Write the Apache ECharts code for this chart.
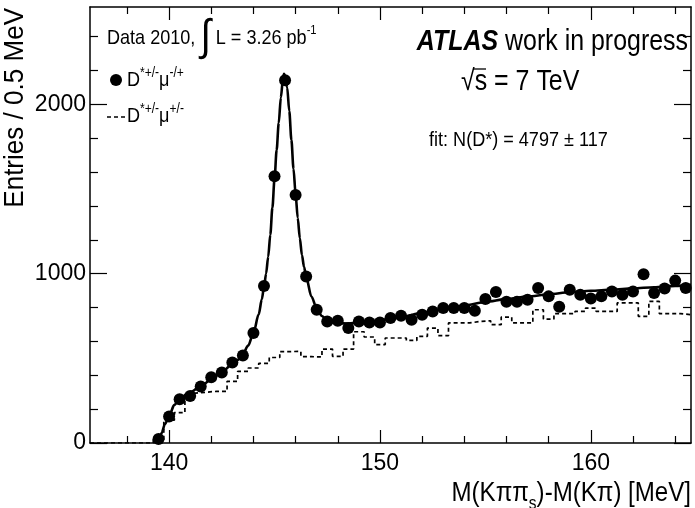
<!DOCTYPE html>
<html lang="en">
<head>
<meta charset="UTF-8">
<title>D* mu</title>
<script src="https://cdn.jsdelivr.net/npm/echarts@6/dist/echarts.min.js"></script>
<style>
  html, body { margin: 0; padding: 0; background: #fff; }
  #chart { width: 695px; height: 508px; }
</style>
</head>
<body>
<div id="chart"></div>
<script>
// wrong-sign histogram, 0.5 MeV bins (bin centres)
var wsBins = [136.5, 137.0, 137.5, 138.0, 138.5, 139.0, 139.5, 140.0, 140.5, 141.0,
    141.5, 142.0, 142.5, 143.0, 143.5, 144.0, 144.5, 145.0, 145.5, 146.0,
    146.5, 147.0, 147.5, 148.0, 148.5, 149.0, 149.5, 150.0, 150.5, 151.0,
    151.5, 152.0, 152.5, 153.0, 153.5, 154.0, 154.5, 155.0, 155.5, 156.0,
    156.5, 157.0, 157.5, 158.0, 158.5, 159.0, 159.5, 160.0, 160.5, 161.0,
    161.5, 162.0, 162.5, 163.0, 163.5, 164.0, 164.5];
var wsCounts = [0, 0, 0, 0, 0, 0, 20, 135, 179, 295,
    300, 305, 305, 364, 423, 443, 470, 505, 540, 541,
    510, 508, 555, 512, 555, 657, 626, 581, 620, 620,
    606, 630, 679, 634, 709, 709, 718, 722, 699, 744,
    709, 709, 787, 732, 764, 764, 777, 797, 777, 777,
    827, 827, 748, 836, 764, 764, 758];

// right-sign data points
var rsBins = [139.5, 140.0, 140.5, 141.0, 141.5, 142.0, 142.5, 143.0, 143.5, 144.0,
    144.5, 145.0, 145.5, 146.0, 146.5, 147.0, 147.5, 148.0, 148.5, 149.0,
    149.5, 150.0, 150.5, 151.0, 151.5, 152.0, 152.5, 153.0, 153.5, 154.0,
    154.5, 155.0, 155.5, 156.0, 156.5, 157.0, 157.5, 158.0, 158.5, 159.0,
    159.5, 160.0, 160.5, 161.0, 161.5, 162.0, 162.5, 163.0, 163.5, 164.0, 164.5];
var rsCounts = [24, 157, 258, 277, 334, 388, 417, 476, 517, 650,
    927, 1575, 2142, 1465, 983, 787, 717, 722, 679, 718,
    712, 712, 738, 752, 728, 758, 777, 797, 797, 797,
    781, 851, 892, 834, 834, 846, 915, 866, 805, 905,
    876, 854, 866, 895, 876, 895, 996, 886, 912, 959, 915];

// fit curve
var fitX = [139.5, 139.65, 139.8, 140.0, 140.25, 140.5, 141.0, 141.5, 142.0, 142.5,
    143.0, 143.25, 143.5, 143.75, 144.0, 144.25, 144.4, 144.5, 144.6, 144.7,
    144.8, 144.9, 145.0, 145.1, 145.2, 145.3, 145.4, 145.45, 145.5, 145.6,
    145.7, 145.8, 145.9, 146.0, 146.1, 146.2, 146.3, 146.4, 146.5, 146.75,
    147.0, 147.25, 147.5, 147.75, 148.0, 148.5, 149.0, 150.0, 151.0, 152.0,
    153.0, 154.0, 155.0, 156.0, 157.0, 158.0, 159.0, 160.0, 161.0, 162.0,
    163.0, 164.0, 164.75];
var fitY = [0, 60, 110, 160, 225, 265, 300, 335, 375, 420,
    465, 490, 525, 575, 650, 760, 850, 920, 1000, 1100,
    1230, 1390, 1560, 1730, 1890, 2040, 2150, 2180, 2170, 2100,
    1960, 1790, 1620, 1470, 1330, 1210, 1110, 1040, 980, 865,
    795, 750, 725, 712, 707, 706, 710, 725, 745, 768,
    790, 812, 833, 850, 865, 878, 890, 899, 906, 913,
    920, 928, 934];

var xMajor = [140, 150, 160];
var xMinor = [138, 142, 144, 146, 148, 152, 154, 156, 158, 162, 164];
var yMajor = [0, 1000, 2000];
var yMinor = [200, 400, 600, 800, 1200, 1400, 1600, 1800, 2200, 2400];

var binWidth = 0.5;
var xMin = 136.25, xMax = 164.75, yMin = 0, yMax = 2575;

var FONT = "'Liberation Sans', Arial, sans-serif";
var SQ = 0.86;  // squeeze texts a bit, the original font is narrow

// histogram outline from bin centres
var wsStep = [];
for (var i = 0; i < wsBins.length; i++) {
    wsStep.push([wsBins[i] - binWidth / 2, wsCounts[i]]);
    wsStep.push([wsBins[i] + binWidth / 2, wsCounts[i]]);
}
var rsData = rsBins.map(function (x, i) { return [x, rsCounts[i]]; });
var fitData = fitX.map(function (x, i) { return [x, fitY[i]]; });

function tickAxis(kind, pos, ticks, len, main, labels) {
    var a = {
        type: 'value', position: pos,
        min: kind === 'x' ? xMin : yMin,
        max: kind === 'x' ? xMax : yMax,
        splitLine: {show: false},
        axisLine: {show: main, onZero: false, lineStyle: {color: '#000', width: 1.5}},
        axisTick: {show: true, inside: true, length: len, customValues: ticks,
            lineStyle: {color: '#000', width: 1.2}},
        axisLabel: {show: false}
    };
    if (labels) {
        a.axisLabel = {show: true, customValues: labels, color: '#000',
            fontFamily: FONT, fontSize: 23, margin: kind === 'x' ? 9 : 4,
            formatter: function (v) { return String(v); }};
    }
    return a;
}

var myChart = echarts.init(document.getElementById('chart'));
var option = {
    backgroundColor: '#fff',
    animation: false,
    grid: {left: 90, right: 4, top: 7, bottom: 65},
    xAxis: [
        tickAxis('x', 'bottom', xMajor, 13, true, xMajor),
        tickAxis('x', 'bottom', xMinor, 7, false),
        tickAxis('x', 'top', xMajor, 13, true),
        tickAxis('x', 'top', xMinor, 7, false)
    ],
    yAxis: [
        tickAxis('y', 'left', yMajor, 17, true, yMajor),
        tickAxis('y', 'left', yMinor, 8, false),
        tickAxis('y', 'right', yMajor, 17, true),
        tickAxis('y', 'right', yMinor, 8, false)
    ],
    series: [
        {
            name: 'D*+/-mu+/-', type: 'line', data: wsStep, showSymbol: false, z: 2,
            lineStyle: {color: '#000', width: 1.7, type: [4, 3]}
        },
        {
            name: 'fit', type: 'line', data: fitData, showSymbol: false, z: 3,
            smooth: 0.3, smoothMonotone: 'x',
            lineStyle: {color: '#000', width: 2.6}
        },
        {
            name: 'D*+/-mu-/+', type: 'scatter', data: rsData, z: 4,
            symbol: 'circle', symbolSize: 12, itemStyle: {color: '#000', opacity: 1}
        }
    ],
    graphic: [
        // axis titles
        {type: 'text', x: 691, y: 493, scaleX: SQ, style: {
            text: '{t|M(K\u03c0\u03c0}{s|s}{t|)-M(K\u03c0) [MeV]}', align: 'right', verticalAlign: 'middle',
            rich: {
                t: {fontFamily: FONT, fontSize: 28, lineHeight: 28, fill: '#000'},
                s: {fontFamily: FONT, fontSize: 18, lineHeight: 40, verticalAlign: 'bottom', fill: '#000'}
            }}},
        {type: 'text', x: 15, y: 8, rotation: Math.PI / 2, scaleX: 0.93, style: {
            text: 'Entries / 0.5 MeV', align: 'right', verticalAlign: 'middle',
            fontFamily: FONT, fontSize: 28, fill: '#000'}},
        // luminosity label
        {type: 'text', x: 107, y: 38, scaleX: SQ, style: {
            text: '{t|Data 2010, }{i|\u222b}{t| L = 3.26 pb}{u|-1}', verticalAlign: 'middle',
            rich: {
                t: {fontFamily: FONT, fontSize: 21, lineHeight: 30, fill: '#000'},
                i: {fontFamily: FONT, fontSize: 44, lineHeight: 44, fill: '#000'},
                u: {fontFamily: FONT, fontSize: 13, lineHeight: 13, verticalAlign: 'top', padding: [8, 0, 0, 0], fill: '#000'}
            }}},
        // legend
        {type: 'circle', shape: {cx: 116, cy: 80, r: 6}, style: {fill: '#000'}},
        {type: 'text', x: 127, y: 80, scaleX: SQ, style: {
            text: '{t|D}{u|*+/-}{t|\u03bc}{u|-/+}', verticalAlign: 'middle',
            rich: {
                t: {fontFamily: FONT, fontSize: 21, lineHeight: 28, fill: '#000'},
                u: {fontFamily: FONT, fontSize: 14, lineHeight: 14, verticalAlign: 'top', fill: '#000'}
            }}},
        {type: 'line', shape: {x1: 107, y1: 117, x2: 126, y2: 117},
            style: {stroke: '#000', lineWidth: 1.7, lineDash: [4, 3]}},
        {type: 'text', x: 127, y: 116, scaleX: SQ, style: {
            text: '{t|D}{u|*+/-}{t|\u03bc}{u|+/-}', verticalAlign: 'middle',
            rich: {
                t: {fontFamily: FONT, fontSize: 21, lineHeight: 28, fill: '#000'},
                u: {fontFamily: FONT, fontSize: 14, lineHeight: 14, verticalAlign: 'top', fill: '#000'}
            }}},
        // ATLAS label
        {type: 'text', x: 688, y: 42, scaleX: SQ, style: {
            text: '{b|ATLAS}{t| work in progress}', align: 'right', verticalAlign: 'middle',
            rich: {
                b: {fontFamily: FONT, fontSize: 29, fontWeight: 'bold', fontStyle: 'italic', fill: '#000'},
                t: {fontFamily: FONT, fontSize: 29, fill: '#000'}
            }}},
        {type: 'text', x: 461, y: 82, scaleX: SQ, style: {
            text: '\u221as = 7 TeV', verticalAlign: 'middle',
            fontFamily: FONT, fontSize: 29, fill: '#000'}},
        // bar of the square root
        {type: 'line', shape: {x1: 473, y1: 69, x2: 486, y2: 69},
            style: {stroke: '#000', lineWidth: 1.3}},
        {type: 'text', x: 429, y: 140, scaleX: SQ, style: {
            text: 'fit: N(D*) = 4797 \u00b1 117', verticalAlign: 'middle',
            fontFamily: FONT, fontSize: 21, fill: '#000'}}
    ]
};
myChart.setOption(option);
</script>
</body>
</html>
